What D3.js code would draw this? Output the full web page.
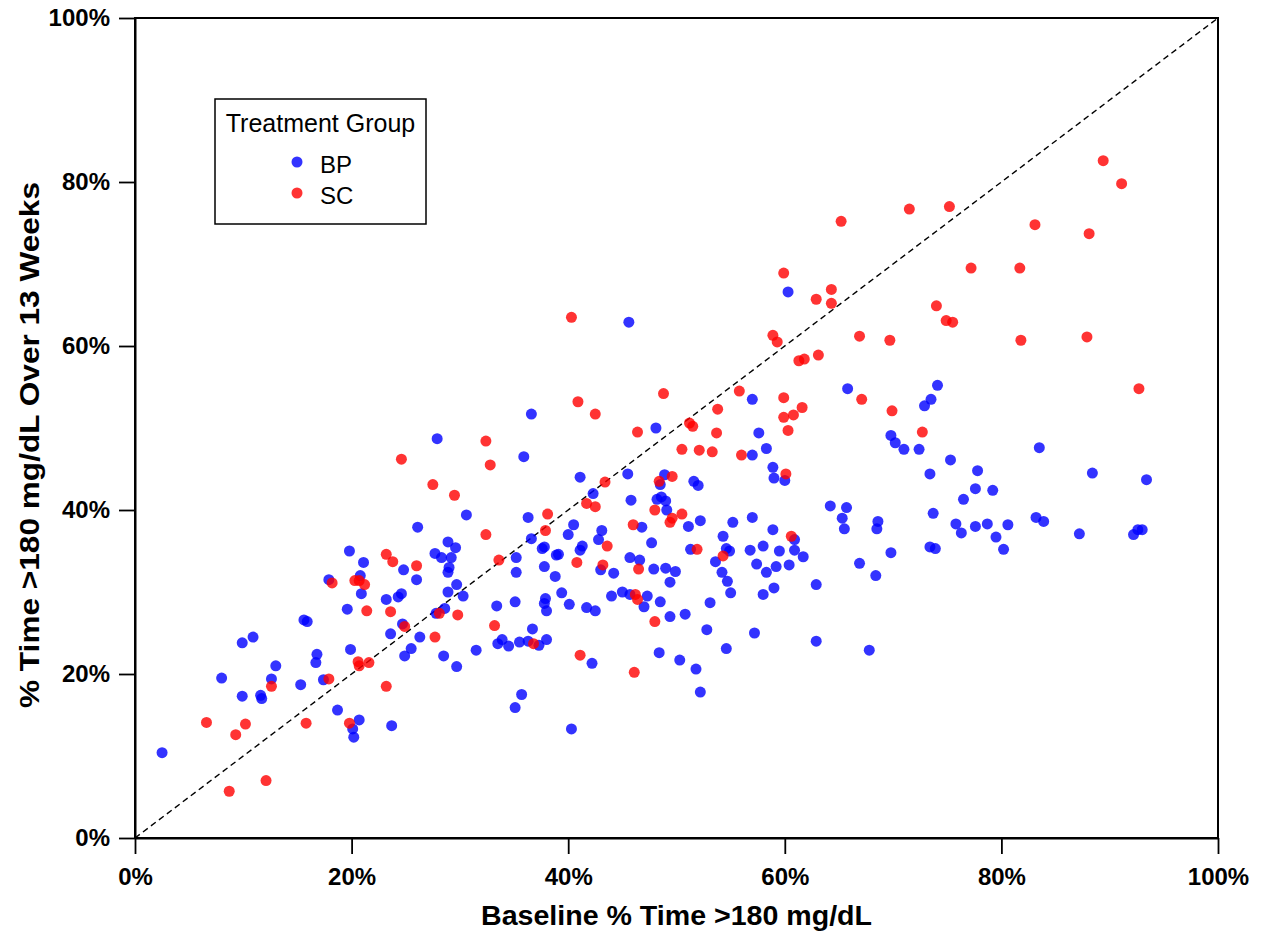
<!DOCTYPE html>
<html>
<head>
<meta charset="utf-8">
<script src="https://cdn.jsdelivr.net/npm/d3@7"></script>
<style>
  html, body { margin: 0; padding: 0; background: #ffffff; }
  svg { display: block; font-family: "Liberation Sans", Arial, sans-serif; }
</style>
</head>
<body>
<svg id="chart" width="1262" height="936"></svg>
<script>
// ---- Data (percent values) ----
const tickValues = [0, 20, 40, 60, 80, 100];
const groupNames = ["BP", "SC"];
const groupColors = ["#0000ff", "#ff0000"];

const bpX = [
  2.5,8.0,9.9,10.9,9.9,11.6,11.7,12.6,13.0,15.6,15.9,16.8,16.7,15.3,17.4,18.7,20.7,20.1,20.2,23.7,19.9,19.6,23.2,24.6,24.3,20.9,23.6,24.7,24.9,25.5,17.9,20.8,21.1,24.8,19.8,
  45.6,36.6,48.1,27.9,35.9,41.1,45.5,42.3,45.8,30.6,26.1,36.3,40.5,40.0,43.1,42.8,41.3,41.1,36.6,37.8,37.6,38.9,39.1,28.9,29.6,27.7,28.3,29.2,29.0,35.2,45.7,46.6,47.7,48.9,48.5,48.6,48.2,49.0,49.1,46.8,37.8,47.9,
  26.0,28.9,35.2,38.8,43.0,44.2,49.0,29.7,28.9,30.3,33.4,35.1,37.9,37.8,38.0,39.4,40.1,41.7,42.5,44.0,45.0,45.7,47.3,47.0,48.5,49.4,27.8,28.6,26.3,28.5,29.7,31.5,36.7,33.9,33.5,34.5,35.5,36.3,37.3,38.0,42.2,48.4,49.4,35.7,35.1,40.3,
  57.0,57.6,58.3,57.0,58.9,59.0,60.0,65.8,74.1,73.5,72.9,69.8,70.2,71.0,72.4,73.4,51.6,52.0,51.1,52.2,55.2,57.0,64.2,65.7,65.3,65.5,68.6,68.5,73.7,58.9,60.9,60.9,61.7,54.3,54.6,54.9,51.3,53.6,56.8,58.0,59.5,57.4,59.2,60.4,66.9,69.8,73.4,73.9,
  49.9,54.2,54.7,55.0,58.3,59.0,58.0,62.9,68.4,53.1,50.8,52.8,54.6,57.2,62.9,67.8,50.3,51.8,52.2,
  83.5,75.3,77.8,88.4,93.4,77.6,79.2,76.5,75.8,76.3,77.6,78.7,80.6,79.5,80.2,83.2,83.9,87.2,92.2,92.6,93.0,
  60.3
];
const bpY = [
  10.4,19.5,23.8,24.5,17.3,17.4,17.0,19.4,21.0,26.6,26.4,22.4,21.4,18.7,19.3,15.6,14.4,13.3,12.3,13.7,23.0,27.9,29.1,29.8,29.4,29.8,24.9,26.1,22.2,23.1,31.5,32.0,33.6,32.7,35.0,
  62.9,51.7,50.0,48.7,46.5,44.0,44.4,42.0,41.2,39.4,37.9,39.1,38.2,37.0,37.5,36.4,35.6,35.1,36.5,35.5,35.3,34.5,34.6,36.1,35.4,34.7,34.2,34.2,33.0,34.2,34.2,33.9,36.0,44.3,43.1,41.6,41.3,41.1,40.0,37.9,33.1,32.8,
  31.5,32.4,32.4,31.9,32.7,32.3,32.9,30.9,30.0,29.5,28.3,28.8,29.2,28.6,27.7,29.9,28.5,28.1,27.7,29.5,30.0,29.7,29.5,28.2,28.8,31.2,27.4,28.0,24.5,22.2,20.9,22.9,25.5,24.2,23.7,23.4,23.9,24.0,23.5,24.2,21.3,22.6,27.0,17.5,15.9,13.3,
  53.5,49.4,47.5,46.7,45.2,43.9,43.6,54.8,55.2,53.5,52.7,49.1,48.2,47.4,47.4,44.4,43.5,43.0,38.0,38.7,38.5,39.1,40.5,40.3,39.0,37.7,38.6,37.7,39.6,37.6,36.4,35.1,34.3,36.8,35.3,35.0,35.2,33.7,35.1,35.6,35.0,33.4,33.1,33.3,33.5,34.8,35.5,35.3,
  32.5,32.4,31.3,29.9,32.4,30.5,29.7,30.9,32.0,28.7,27.3,25.4,23.1,25.0,24.0,22.9,21.7,20.6,17.8,
  47.6,46.1,44.8,44.5,43.7,42.6,42.4,41.3,38.3,37.2,38.0,38.3,38.2,36.7,35.2,39.1,38.6,37.1,37.0,37.6,37.6,
  66.6
];
const scX = [
  12.6,6.6,10.2,9.3,8.7,12.1,17.9,15.8,19.8,23.2,20.6,20.7,21.6,21.4,23.6,24.9,18.2,20.3,20.7,21.2,23.8,24.6,23.2,
  40.3,48.8,40.9,42.5,46.4,32.4,32.8,43.4,27.5,29.5,41.7,42.5,38.1,37.9,43.6,32.4,26.0,33.6,48.4,48.0,46.0,49.4,40.8,43.2,46.5,
  28.1,29.8,27.7,33.2,36.8,41.1,46.2,46.4,48.0,46.1,
  58.9,59.3,66.9,69.7,61.3,61.8,63.1,55.8,59.9,61.6,59.9,60.8,60.3,67.1,69.9,53.8,51.2,51.5,53.7,50.5,52.1,53.3,56.0,60.1,72.7,49.6,49.6,50.5,60.6,51.9,54.3,
  65.2,71.5,59.9,64.3,62.9,64.3,74.0,
  89.4,91.1,75.2,83.1,88.1,77.2,81.7,74.9,75.5,81.8,87.9,92.7
];
const scY = [
  18.5,14.1,13.9,12.6,5.7,7.0,19.4,14.0,14.0,18.5,21.5,21.0,21.4,27.7,27.6,25.8,31.1,31.4,31.4,30.9,33.7,46.2,34.6,
  63.5,54.2,53.2,51.7,49.5,48.4,45.5,43.4,43.1,41.8,40.8,40.4,39.5,37.5,35.6,37.0,33.2,33.9,43.5,40.0,38.2,38.5,33.6,33.3,32.8,
  27.4,27.2,24.5,25.9,23.7,22.3,29.7,29.1,26.4,20.2,
  61.3,60.5,61.2,60.7,58.2,58.4,58.9,54.5,53.7,52.5,51.3,51.6,49.7,53.5,52.1,52.3,50.6,50.2,49.4,47.4,47.3,47.1,46.7,44.4,49.5,44.1,39.0,39.5,36.8,35.2,34.4,
  75.2,76.7,68.9,66.9,65.7,65.2,64.9,
  82.6,79.8,77.0,74.8,73.7,69.5,69.5,63.1,62.9,60.7,61.1,54.8
];

const xTitle = "Baseline % Time >180 mg/dL";
const yTitle = "% Time >180 mg/dL Over 13 Weeks";
const legendTitle = "Treatment Group";

// ---- Layout ----
const svg = d3.select("#chart");
const pLeft = 135, pRight = 1218, pTop = 18, pBottom = 838;
const x = d3.scaleLinear().domain([0, 100]).range([pLeft, pRight]);
const y = d3.scaleLinear().domain([0, 100]).range([pBottom, pTop]);

// diagonal identity line
svg.append("line")
  .attr("x1", x(0)).attr("y1", y(0))
  .attr("x2", x(100)).attr("y2", y(100))
  .attr("stroke", "#000").attr("stroke-width", 1.4)
  .attr("stroke-dasharray", "6,4");

// points
const bpData = bpX.map((v, i) => ({ x: v, y: bpY[i] }));
const scData = scX.map((v, i) => ({ x: v, y: scY[i] }));
const pts = svg.append("g");
[bpData, scData].forEach((data, gi) => {
  pts.append("g").selectAll("circle").data(data).join("circle")
    .attr("cx", d => x(d.x)).attr("cy", d => y(d.y))
    .attr("r", 5.5)
    .attr("fill", groupColors[gi])
    .attr("fill-opacity", 0.8);
});

// box
svg.append("rect")
  .attr("x", pLeft).attr("y", pTop)
  .attr("width", pRight - pLeft).attr("height", pBottom - pTop)
  .attr("fill", "none").attr("stroke", "#000").attr("stroke-width", 2);

// axes
const fmt = d => d + "%";
const xAxis = svg.append("g").attr("transform", `translate(0,${pBottom})`)
  .call(d3.axisBottom(x).tickValues(tickValues).tickFormat(fmt).tickSize(16).tickSizeOuter(0).tickPadding(14));
const yAxis = svg.append("g").attr("transform", `translate(${pLeft},0)`)
  .call(d3.axisLeft(y).tickValues(tickValues).tickFormat(fmt).tickSize(16).tickSizeOuter(0).tickPadding(9));
[xAxis, yAxis].forEach(g => {
  g.select(".domain").attr("stroke", "#000").attr("stroke-width", 2);
  g.selectAll(".tick line").attr("stroke", "#000").attr("stroke-width", 1.8);
  g.selectAll(".tick text")
    .attr("fill", "#000")
    .style("font-family", "'Liberation Sans', Arial, sans-serif")
    .style("font-size", "24px").style("font-weight", "bold");
});

// axis titles
svg.append("text")
  .attr("x", (pLeft + pRight) / 2).attr("y", 925)
  .attr("text-anchor", "middle")
  .attr("textLength", 391).attr("lengthAdjust", "spacingAndGlyphs")
  .style("font-size", "27px").style("font-weight", "bold")
  .text(xTitle);
svg.append("text")
  .attr("transform", "translate(39,445) rotate(-90)")
  .attr("text-anchor", "middle")
  .attr("textLength", 526).attr("lengthAdjust", "spacingAndGlyphs")
  .style("font-size", "27px").style("font-weight", "bold")
  .text(yTitle);

// legend
const lg = svg.append("g");
lg.append("rect").attr("x", 215).attr("y", 99).attr("width", 211).attr("height", 125)
  .attr("fill", "#fff").attr("stroke", "#000").attr("stroke-width", 1.5);
lg.append("text").attr("x", 320.5).attr("y", 132).attr("text-anchor", "middle")
  .style("font-size", "25px").text(legendTitle);
groupNames.forEach((nm, i) => {
  const cy = 162 + i * 31;
  lg.append("circle").attr("cx", 297).attr("cy", cy).attr("r", 5.5)
    .attr("fill", groupColors[i]).attr("fill-opacity", 0.8);
  lg.append("text").attr("x", 320).attr("y", cy + 11)
    .style("font-size", "24px").text(nm);
});
</script>
</body>
</html>
